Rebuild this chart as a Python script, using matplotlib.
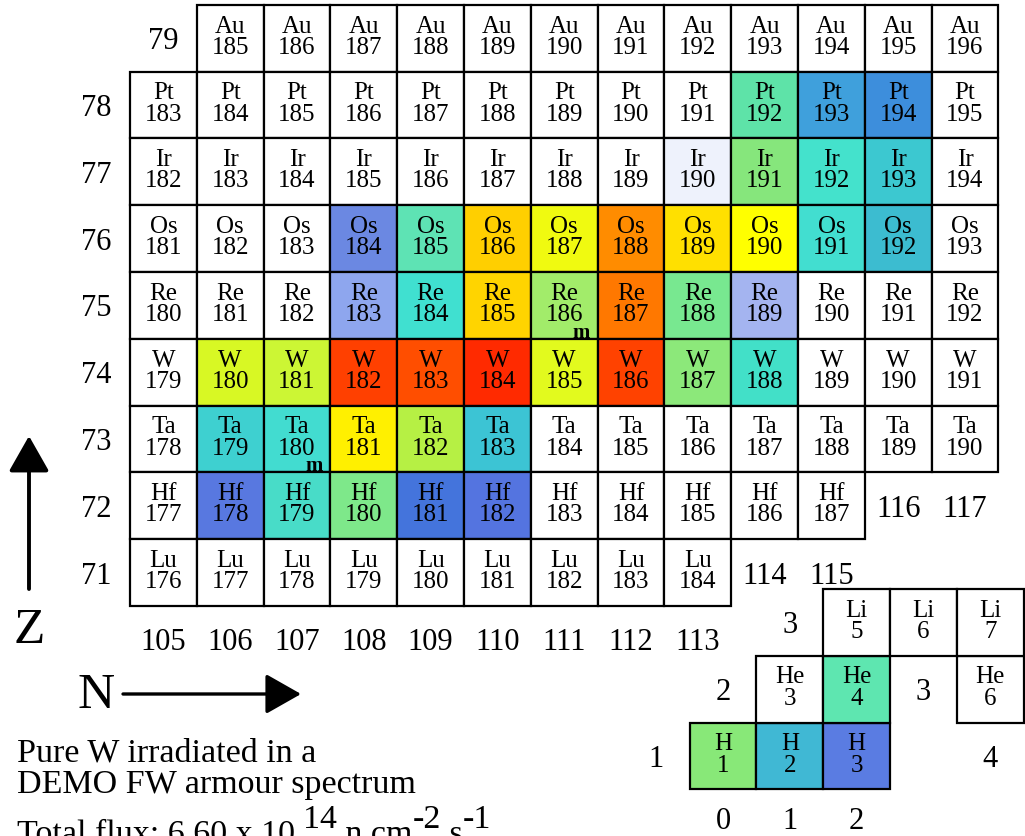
import matplotlib
matplotlib.use("Agg")
import matplotlib.pyplot as plt
from matplotlib.patches import Rectangle, FancyArrowPatch

# ---------------------------------------------------------------- data
# Heavy-nuclide block: one row per element (Z), spanning first..last N
row_z = [79, 78, 77, 76, 75, 74, 73, 72, 71]
row_elem = ["Au", "Pt", "Ir", "Os", "Re", "W", "Ta", "Hf", "Lu"]
row_n_first = [106, 105, 105, 105, 105, 105, 105, 105, 105]
row_n_last = [117, 117, 117, 117, 117, 117, 117, 115, 113]

# Light nuclides (gas production)
light_elem = ["H", "H", "H", "He", "He", "He", "Li", "Li", "Li"]
light_z = [1, 1, 1, 2, 2, 2, 3, 3, 3]
light_n = [0, 1, 2, 1, 2, 4, 2, 3, 4]

# Metastable states marked with an "m"
metastable = [("Re", 186), ("Ta", 180)]

# Fill colour of nuclides present in the irradiated material
cell_colours = {
    ("Pt", 192): "#5ee3a8", ("Pt", 193): "#3fa0dc", ("Pt", 194): "#3d8edc",
    ("Ir", 190): "#eef2fc", ("Ir", 191): "#86e67c", ("Ir", 192): "#44e2cc",
    ("Ir", 193): "#3cc8d0",
    ("Os", 184): "#6b88e2", ("Os", 185): "#5ee3b4", ("Os", 186): "#ffcf00",
    ("Os", 187): "#f0fa10", ("Os", 188): "#ff8c00", ("Os", 189): "#ffe000",
    ("Os", 190): "#ffff00", ("Os", 191): "#42ded0", ("Os", 192): "#3cbcd0",
    ("Re", 183): "#8ea6ee", ("Re", 184): "#40e0d0", ("Re", 185): "#ffd400",
    ("Re", 186): "#a2ec6a", ("Re", 187): "#ff7800", ("Re", 188): "#78e890",
    ("Re", 189): "#a4b4f0",
    ("W", 180): "#d8f824", ("W", 181): "#ccf634", ("W", 182): "#ff4000",
    ("W", 183): "#ff4e00", ("W", 184): "#ff2a00", ("W", 185): "#e2fa1e",
    ("W", 186): "#ff4200", ("W", 187): "#8ce87a", ("W", 188): "#42e0c8",
    ("Ta", 179): "#3ed0d0", ("Ta", 180): "#42dcd0", ("Ta", 181): "#fff000",
    ("Ta", 182): "#b6f044", ("Ta", 183): "#3cc4d4",
    ("Hf", 178): "#5878e0", ("Hf", 179): "#48dcc8", ("Hf", 180): "#7ee88a",
    ("Hf", 181): "#4474dc", ("Hf", 182): "#5474e0",
    ("H", 1): "#88e878", ("H", 2): "#40b8d4", ("H", 3): "#5a7ce2",
    ("He", 4): "#5ee6b0",
}

caption_lines = ["Pure W irradiated in a", "DEMO FW armour spectrum"]
flux_parts = [("Total flux: 6.60 x 10 ", 0), ("14", 1), (" n cm", 0),
              ("-2", 1), (" s", 0), ("-1", 1)]

# ---------------------------------------------------------------- layout
W_PX, H_PX, DPI = 1025, 837, 100
CELL = 66.8                      # pixels per nuclide box
SERIF = ["Liberation Serif", "DejaVu Serif"]
LIGHT_DN, LIGHT_DZ = 113.377, 67.255   # where the light-nuclide panel sits

fig = plt.figure(figsize=(W_PX / DPI, H_PX / DPI), dpi=DPI)
fig.patch.set_facecolor("white")

ax = fig.add_axes([0, 0, 1, 1])
x_left = 104.5 - 130 / CELL
y_top = 70.5 + 607 / CELL
y_bottom = y_top - H_PX / CELL
ax.set_xlim(x_left, x_left + W_PX / CELL)
ax.set_ylim(y_bottom, y_top)
ax.axis("off")

# lowest baseline that still leaves room for the font descent
LABEL_MIN_Y = y_bottom + 7.5 / CELL


def draw_cell(n, z, elem, mass, dn=0.0, dz=0.0):
    x, y = n + dn, z + dz
    colour = cell_colours.get((elem, mass), "white")
    ax.add_patch(Rectangle((x - 0.5, y - 0.5), 1, 1, facecolor=colour,
                           edgecolor="black", linewidth=1.6, zorder=2))
    ax.text(x, y + 0.10, elem, ha="center", va="baseline",
            fontsize=18, family=SERIF, zorder=3)
    ax.text(x, y - 0.22, str(mass), ha="center", va="baseline",
            fontsize=18, family=SERIF, zorder=3)
    if (elem, mass) in metastable:
        ax.text(x + 0.26, y - 0.47, "m", ha="center", va="baseline",
                fontsize=15, family=SERIF, fontweight="bold", zorder=3)


def draw_axis_labels(cells, dn=0.0, dz=0.0):
    # Z label just left of each row, N label just under each column
    rows, cols = {}, {}
    for n, z in cells:
        rows[z] = min(rows.get(z, n), n)
        cols[n] = min(cols.get(n, z), z)
    for z, nmin in rows.items():
        ax.text(nmin - 1 + dn, max(z + dz - 0.15, LABEL_MIN_Y), str(z),
                ha="center", va="baseline", fontsize=22, family=SERIF)
    for n, zmin in cols.items():
        ax.text(n + dn, max(zmin - 1 + dz - 0.15, LABEL_MIN_Y), str(n),
                ha="center", va="baseline", fontsize=22, family=SERIF)


heavy_cells = []
for z, elem, n0, n1 in zip(row_z, row_elem, row_n_first, row_n_last):
    for n in range(n0, n1 + 1):
        draw_cell(n, z, elem, n + z)
        heavy_cells.append((n, z))
draw_axis_labels(heavy_cells)

light_cells = []
for elem, z, n in zip(light_elem, light_z, light_n):
    draw_cell(n, z, elem, n + z, LIGHT_DN, LIGHT_DZ)
    light_cells.append((n, z))
draw_axis_labels(light_cells, LIGHT_DN, LIGHT_DZ)

# ---------------------------------------------------------------- annotations (pixel space)
ov = fig.add_axes([0, 0, 1, 1])
ov.set_xlim(0, W_PX)
ov.set_ylim(H_PX, 0)
ov.axis("off")
ov.patch.set_alpha(0)

arrow_style = "-|>,head_length=22,head_width=12.5"
ov.add_patch(FancyArrowPatch((29, 590), (29, 437), arrowstyle=arrow_style,
                             mutation_scale=1, linewidth=2.8, color="black",
                             shrinkA=0, shrinkB=0))
ov.add_patch(FancyArrowPatch((123, 695), (301, 695), arrowstyle=arrow_style,
                             mutation_scale=1, linewidth=2.4, color="black",
                             shrinkA=0, shrinkB=0))
ov.text(29, 643, "Z", ha="center", va="baseline", fontsize=37, family=SERIF)
ov.text(96, 708, "N", ha="center", va="baseline", fontsize=37, family=SERIF)

for i, line in enumerate(caption_lines):
    ov.text(17, 762 + 31.5 * i, line, ha="left", va="baseline",
            fontsize=24.5, family=SERIF)

prev = ov.text(17, 843, flux_parts[0][0], ha="left", va="baseline",
               fontsize=24.5, family=SERIF)
level = 0
for txt, sup in flux_parts[1:]:
    rise = (sup - level) * 11
    prev = ov.annotate(txt, xy=(1, 0), xycoords=prev, xytext=(0, rise),
                       textcoords="offset points", ha="left", va="bottom",
                       fontsize=24.5, family=SERIF)
    level = sup

fig.savefig("out.png", dpi=DPI, facecolor="white")
